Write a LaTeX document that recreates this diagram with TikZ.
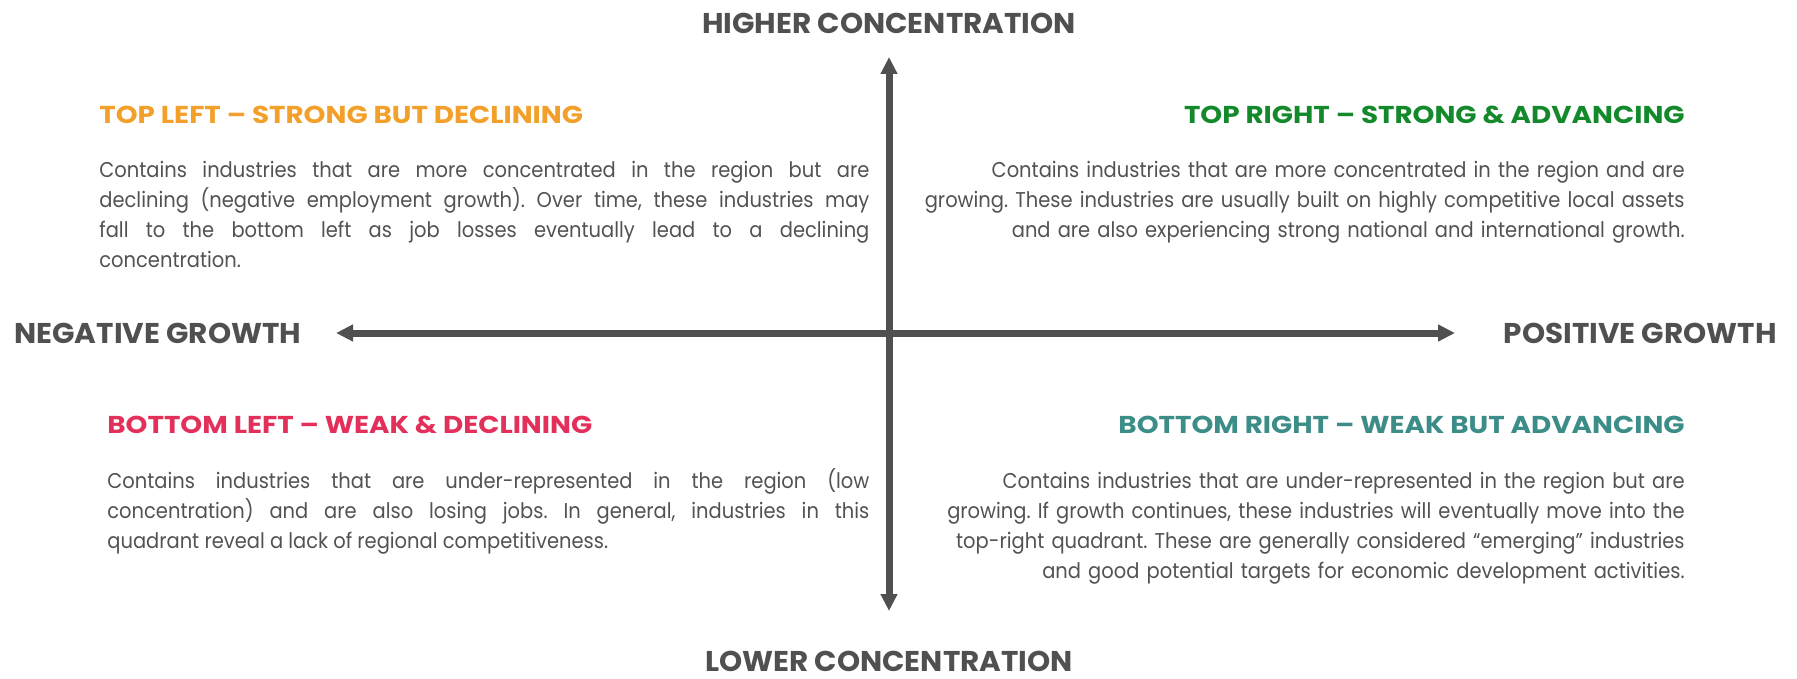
\documentclass[tikz,border=0pt]{standalone}
\usepackage{fontspec}
\setmainfont{Poppins}[FakeStretch=0.91]
\newfontfamily\axisfont{Poppins}[FakeStretch=1.03]
\newfontfamily\headfont{Poppins}[FakeStretch=1.14]
\usetikzlibrary{arrows.meta}

\definecolor{axisgray}{HTML}{505050}
\definecolor{textgray}{HTML}{525252}
\definecolor{tlorange}{HTML}{F2A02A}
\definecolor{trgreen}{HTML}{14892C}
\definecolor{blpink}{HTML}{E3305B}
\definecolor{brteal}{HTML}{3C8D88}

\begin{document}
\frenchspacing
\begin{tikzpicture}[x=0.5pt, y=-0.5pt, every node/.style={inner sep=0pt, text=textgray},
  axislabel/.style={font=\axisfont\fontsize{14.3}{16}\selectfont\bfseries, text=axisgray},
  heading/.style={font=\headfont\fontsize{12.2}{14}\selectfont\bfseries},
  bodyleft/.style={font=\fontsize{10.7}{15}\selectfont, text width=385pt, align=justify},
  bodyright/.style={font=\fontsize{10.7}{15}\selectfont, text width=420pt, align=right},
  axis/.style={draw=axisgray, line width=3.5pt, {Triangle[length=8.5pt,width=8pt]}-{Triangle[length=8.5pt,width=8pt]}}]
\useasboundingbox (0,0) rectangle (1797,679);

% axes
\coordinate (top) at (889,57);
\coordinate (bottom) at (889,611);
\coordinate (left) at (336,333);
\coordinate (right) at (1455,333);
\draw[axis] (top) -- (bottom);
\draw[axis] (left) -- (right);

\node[axislabel, anchor=base] (higher) at (889,34) {HIGHER CONCENTRATION};
\node[axislabel, anchor=base] (lower) at (889,671) {LOWER CONCENTRATION};
\node[axislabel, anchor=base west] (negative) at (14,343) {NEGATIVE GROWTH};
\node[axislabel, anchor=base east] (positive) at (1777,343) {POSITIVE GROWTH};

% top left
\node[heading, text=tlorange, anchor=base west] (tlhead) at (99,123.5) {TOP LEFT – STRONG BUT DECLINING};
\node[bodyleft, anchor=base west] (tlbody) at (99,177.5) {Contains industries that are more concentrated in the region but are\linebreak declining (negative employment growth). Over time, these industries may\linebreak fall to the bottom left as job losses eventually lead to a declining\linebreak concentration.};

% top right
\node[heading, text=trgreen, anchor=base east] (trhead) at (1685,123.5) {TOP RIGHT – STRONG \& ADVANCING};
\node[bodyright, anchor=base east] (trbody) at (1685,177.5) {Contains industries that are more concentrated in the region and are\\growing. These industries are usually built on highly competitive local assets\\and are also experiencing strong national and international growth.};

% bottom left
\node[heading, text=blpink, anchor=base west] (blhead) at (107,433.5) {BOTTOM LEFT – WEAK \& DECLINING};
\node[bodyleft, text width=381pt, anchor=base west] (blbody) at (107,488.5) {Contains industries that are under-represented in the region (low\linebreak concentration) and are also losing jobs. In general, industries in this\linebreak quadrant reveal a lack of regional competitiveness.};

% bottom right
\node[heading, text=brteal, anchor=base east] (brhead) at (1685,433.5) {BOTTOM RIGHT – WEAK BUT ADVANCING};
\node[bodyright, anchor=base east] (brbody) at (1685,488.5) {Contains industries that are under-represented in the region but are\\growing. If growth continues, these industries will eventually move into the\\top-right quadrant. These are generally considered “emerging” industries\\and good potential targets for economic development activities.};
\end{tikzpicture}
\end{document}
